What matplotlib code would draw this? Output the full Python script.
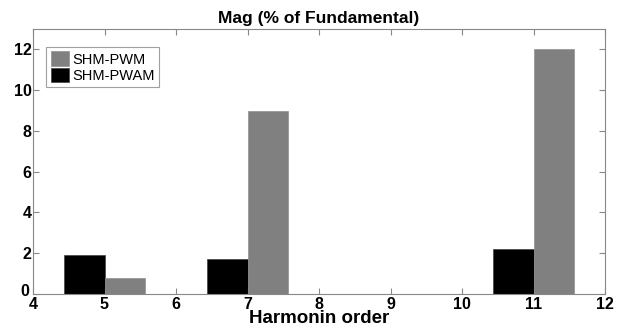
import numpy as np
import matplotlib.pyplot as plt
import matplotlib.transforms as mtransforms

plt.rcParams['font.family'] = ['Liberation Sans', 'DejaVu Sans']

harmonics = [5, 7, 11]
pwam = [1.93, 1.73, 2.22]
pwm = [0.78, 9.0, 12.03]

fig = plt.figure(figsize=(6.19, 3.34), dpi=100)
ax = fig.add_axes([33 / 619, 1 - 294 / 334, 572 / 619, 265 / 334])

x = np.array(harmonics)
w = 0.57
ax.bar(x - w / 2, pwam, width=w, color='black', edgecolor='#404040', linewidth=0.5, label='SHM-PWAM')
ax.bar(x + w / 2, pwm, width=w, color='#808080', edgecolor='#909090', linewidth=0.5, label='SHM-PWM')

ax.set_xlim(4, 12)
ax.set_ylim(0, 13)
ax.set_xticks(range(4, 13))
ax.set_yticks(range(0, 13, 2))
ax.tick_params(direction='in', top=True, right=True, length=4, color='#888888',
               labelsize=11.5)
ax.tick_params(axis='x', pad=2)
ax.tick_params(axis='y', pad=1)
for lab in ax.get_xticklabels() + ax.get_yticklabels():
    lab.set_fontweight('bold')
for s in ax.spines.values():
    s.set_color('#888888')
    s.set_linewidth(0.8)

# nudge the y=0 label up and left so it clears the x=4 label
ylab0 = ax.yaxis.get_major_ticks()[0].label1
ylab0.set_transform(ylab0.get_transform() +
                    mtransforms.ScaledTranslation(-2 / 100, 4 / 100, fig.dpi_scale_trans))

ax.set_title('Mag (% of Fundamental)', fontsize=12.5, fontweight='bold', pad=4)
ax.set_xlabel('Harmonin order', fontsize=13.5, fontweight='bold', labelpad=-1)

h, l = ax.get_legend_handles_labels()
leg = ax.legend(h[::-1], l[::-1], loc='upper left', bbox_to_anchor=(0.023, 0.932),
                borderaxespad=0, fontsize=10.5, frameon=True, fancybox=False,
                handlelength=1.3, handleheight=1.2, handletextpad=0.2, borderpad=0.3,
                labelspacing=0.05)
leg.get_frame().set_edgecolor('#888888')
leg.get_frame().set_linewidth(0.8)

fig.savefig('out.png', dpi=100)
